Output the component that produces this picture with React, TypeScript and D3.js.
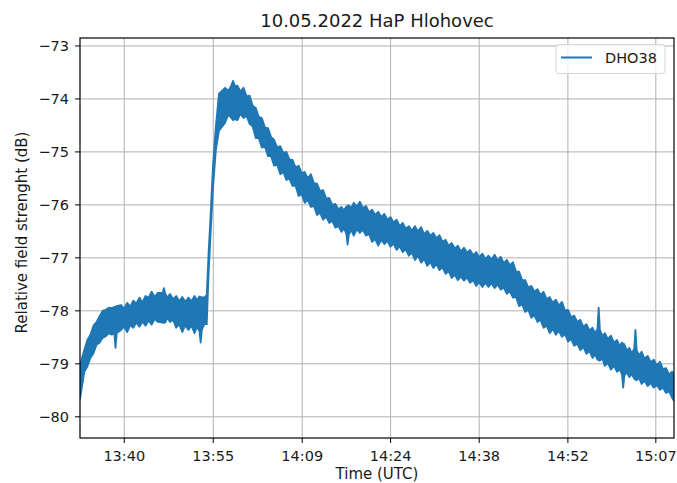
import * as d3 from "d3";

// minutes after 13:00 UTC, upper / lower edge of the noisy DHO38 trace (dB)
const sampleMinutes = [
  33.3, 33.6, 34, 34.5, 35, 35.5, 36, 36.5, 37, 37.5, 38, 38.5, 38.9, 39.1, 39.3, 40, 41, 42, 43, 44,
  45, 46, 46.8, 47, 47.2, 48, 49, 50, 51, 52, 52.8, 53, 53.2, 53.6, 54, 54.3, 54.6, 55, 55.5, 56,
  57, 58, 58.3, 58.6, 59, 60, 61, 62, 63, 64, 65, 66, 67, 68, 69, 70, 71, 72, 73, 74,
  75, 76, 76.8, 77, 77.2, 78, 79, 80, 81, 82, 83, 84, 85, 86, 87, 88, 89, 90, 91, 92,
  93, 94, 95, 96, 97, 98, 99, 100, 101, 102, 103, 104, 105, 106, 107, 108, 109, 110, 111, 112,
  113, 114, 115, 116, 117, 117.8, 118, 118.2, 119, 120, 121, 121.8, 122, 122.2, 123, 123.8, 124, 124.2, 125, 126,
  127, 128, 129, 130, 130.3,
];
const upperDb = [
  -79.02, -78.9, -78.74, -78.55, -78.45, -78.28, -78.21, -78.1, -78.0, -77.98, -77.94, -77.95, -77.93, -77.92, -77.91, -77.89, -77.85, -77.81, -77.75, -77.72,
  -77.64, -77.66, -77.66, -77.57, -77.67, -77.68, -77.72, -77.74, -77.75, -77.72, -77.73, -77.74, -77.74, -77.75, -77.7, -76.9, -76.25, -75.3, -74.5, -73.9,
  -73.79, -73.75, -73.66, -73.76, -73.75, -73.79, -73.94, -74.17, -74.36, -74.55, -74.77, -74.89, -75.0, -75.15, -75.26, -75.38, -75.42, -75.6, -75.72, -75.87,
  -75.98, -76.04, -76.03, -76.02, -76.01, -75.96, -75.94, -76.02, -76.09, -76.13, -76.17, -76.23, -76.28, -76.34, -76.4, -76.4, -76.42, -76.49, -76.53, -76.57,
  -76.66, -76.72, -76.77, -76.81, -76.85, -76.89, -76.92, -76.96, -76.94, -76.98, -77.04, -77.08, -77.26, -77.42, -77.53, -77.59, -77.64, -77.74, -77.79, -77.83,
  -77.98, -78.09, -78.17, -78.25, -78.32, -78.34, -77.94, -78.36, -78.42, -78.47, -78.55, -78.6, -78.62, -78.63, -78.7, -78.72, -78.36, -78.74, -78.77, -78.85,
  -78.92, -78.96, -79.08, -79.15, -79.2,
];
const lowerDb = [
  -79.66, -79.45, -79.15, -79.05, -78.89, -78.8, -78.64, -78.6, -78.51, -78.48, -78.42, -78.45, -78.42, -78.7, -78.42, -78.36, -78.4, -78.32, -78.3, -78.28,
  -78.26, -78.21, -78.22, -78.23, -78.22, -78.21, -78.32, -78.4, -78.36, -78.42, -78.38, -78.6, -78.36, -78.25, -78.25, -77.3, -76.6, -75.7, -74.95, -74.6,
  -74.45, -74.36, -74.4, -74.38, -74.4, -74.36, -74.47, -74.74, -74.92, -75.08, -75.26, -75.42, -75.53, -75.64, -75.83, -75.96, -76.04, -76.19, -76.28, -76.34,
  -76.43, -76.51, -76.55, -76.75, -76.56, -76.58, -76.53, -76.58, -76.7, -76.77, -76.74, -76.79, -76.85, -76.89, -76.96, -77.04, -77.09, -77.15, -77.19, -77.23,
  -77.3, -77.38, -77.42, -77.43, -77.47, -77.53, -77.55, -77.55, -77.57, -77.6, -77.68, -77.75, -77.91, -78.02, -78.13, -78.21, -78.32, -78.42, -78.45, -78.49,
  -78.58, -78.66, -78.74, -78.81, -78.89, -78.92, -78.93, -78.94, -79.04, -79.11, -79.15, -79.2, -79.45, -79.22, -79.25, -79.28, -79.3, -79.31, -79.38, -79.42,
  -79.45, -79.49, -79.55, -79.64, -79.7,
];

// in-between readings where the noisy edge dips back towards the core
const dipMinutes = [
  40.5, 41.5, 42.5, 43.5, 44.5, 45.5, 47.6, 48.5, 49.5, 50.5, 51.5, 52.4,
  57.5, 59.5, 60.5, 61.5, 62.5, 63.5, 64.5, 65.5, 66.5, 67.5, 68.5, 69.5, 70.5, 71.5, 72.5, 73.5, 74.5, 75.5, 76.4,
  77.6, 78.5, 79.5, 80.5, 81.5, 82.5, 83.5, 84.5, 85.5, 86.5, 87.5, 88.5, 89.5, 90.5, 91.5, 92.5, 93.5, 94.5, 95.5,
  96.5, 97.5, 98.5, 99.5, 100.5, 101.5, 102.5, 103.5, 104.5, 105.5, 106.5, 107.5, 108.5, 109.5, 110.5, 111.5, 112.5,
  113.5, 114.5, 115.5, 116.5, 117.4, 118.6, 119.5, 120.5, 121.4, 122.6, 123.4, 124.6, 125.5, 126.5, 127.5, 128.5, 129.5,
];
const dipUpperDb = [
  -77.96, -77.92, -77.86, -77.84, -77.75, -77.74, -77.75, -77.78, -77.82, -77.83, -77.82, -77.8,
  -73.85, -73.86, -73.95, -74.13, -74.34, -74.54, -74.72, -74.92, -75.02, -75.14, -75.29, -75.4, -75.5, -75.59, -75.74, -75.88, -76.0, -76.08, -76.1,
  -76.06, -76.03, -76.06, -76.14, -76.19, -76.23, -76.28, -76.33, -76.4, -76.45, -76.49, -76.5, -76.55, -76.58, -76.63, -76.7, -76.77, -76.82, -76.88,
  -76.9, -76.95, -76.99, -77.02, -77.03, -77.05, -77.1, -77.14, -77.26, -77.42, -77.56, -77.64, -77.7, -77.78, -77.85, -77.9, -77.99,
  -78.12, -78.21, -78.3, -78.37, -78.42, -78.47, -78.53, -78.6, -78.66, -78.75, -78.8, -78.84, -78.9, -78.97, -79.03, -79.1, -79.2,
];
const dipLowerDb = [
  -78.3, -78.27, -78.22, -78.2, -78.18, -78.15, -78.13, -78.17, -78.25, -78.27, -78.28, -78.3,
  -74.3, -74.28, -74.32, -74.52, -74.74, -74.9, -75.08, -75.24, -75.38, -75.5, -75.64, -75.8, -75.9, -76.02, -76.15, -76.22, -76.3, -76.4, -76.44,
  -76.47, -76.46, -76.47, -76.55, -76.64, -76.66, -76.68, -76.73, -76.78, -76.84, -76.9, -76.96, -77.02, -77.08, -77.12, -77.18, -77.25, -77.32, -77.35,
  -77.37, -77.42, -77.46, -77.47, -77.48, -77.5, -77.56, -77.63, -77.74, -77.88, -77.98, -78.08, -78.17, -78.28, -78.34, -78.38, -78.44,
  -78.53, -78.62, -78.68, -78.76, -78.82, -78.9, -78.98, -79.04, -79.1, -79.16, -79.2, -79.27, -79.32, -79.36, -79.4, -79.45, -79.52,
];

const yTicks = [-80, -79, -78, -77, -76, -75, -74, -73];
const xTickMinutes = [40.53, 55.06, 69.59, 84.02, 98.49, 112.97, 127.33];
const xTickLabels = ["13:40", "13:55", "14:09", "14:24", "14:38", "14:52", "15:07"];

const W = 677;
const H = 483;
const margin = { left: 80, right: 3, top: 38, bottom: 45 };
const blue = "#1f77b4";
const ink = "#1a1a1a";
const font = "DejaVu Sans, sans-serif";

type Row = { m: number; hi: number; lo: number };

export default function App() {
  const x = d3.scaleLinear().domain([33.3, 130.3]).range([margin.left, W - margin.right]);
  const y = d3.scaleLinear().domain([-80.4, -72.85]).range([H - margin.bottom, margin.top]);

  const rows: Row[] = sampleMinutes
    .map((m, i) => ({ m, hi: upperDb[i], lo: lowerDb[i] }))
    .concat(dipMinutes.map((m, i) => ({ m, hi: dipUpperDb[i], lo: dipLowerDb[i] })))
    .sort((a, b) => a.m - b.m);

  const band = d3
    .area<Row>()
    .x((d) => x(d.m))
    .y0((d) => y(d.lo))
    .y1((d) => y(d.hi));

  const [x0, x1] = x.range();
  const [y0, y1] = y.range();

  return (
    <svg width={W} height={H} style={{ position: "absolute", left: 0, top: 0 }} fontFamily={font}>
      <rect width={W} height={H} fill="white" />
      <text x={(x0 + x1) / 2} y={27} textAnchor="middle" fontSize={18} fill={ink}>
        10.05.2022 HaP Hlohovec
      </text>

      {/* grid */}
      <g stroke="#b0b0b0" strokeWidth={1}>
        {xTickMinutes.map((t) => (
          <line key={t} x1={x(t)} x2={x(t)} y1={y1} y2={y0} />
        ))}
        {yTicks.map((t) => (
          <line key={t} x1={x0} x2={x1} y1={y(t)} y2={y(t)} />
        ))}
      </g>

      <clipPath id="plot">
        <rect x={x0} y={y1} width={x1 - x0} height={y0 - y1} />
      </clipPath>
      <path
        d={band(rows) ?? ""}
        fill={blue}
        stroke={blue}
        strokeWidth={1.8}
        strokeLinejoin="round"
        clipPath="url(#plot)"
      />

      {/* axes frame */}
      <rect x={x0} y={y1} width={x1 - x0} height={y0 - y1} fill="none" stroke="#000" strokeWidth={1.2} />

      <g fontSize={14.5} fill={ink}>
        {yTicks.map((t) => (
          <g key={t}>
            <line x1={x0 - 5} x2={x0} y1={y(t)} y2={y(t)} stroke="#000" />
            <text x={x0 - 11} y={y(t)} dy="0.35em" textAnchor="end">
              {"\u2212" + Math.abs(t)}
            </text>
          </g>
        ))}
        {xTickMinutes.map((t, i) => (
          <g key={t}>
            <line x1={x(t)} x2={x(t)} y1={y0} y2={y0 + 5} stroke="#000" />
            <text x={x(t)} y={461} textAnchor="middle">
              {xTickLabels[i]}
            </text>
          </g>
        ))}
      </g>

      <text x={(x0 + x1) / 2} y={479} textAnchor="middle" fontSize={15} fill={ink}>
        Time (UTC)
      </text>
      <text transform="translate(27,232.5) rotate(-90)" textAnchor="middle" fontSize={15} fill={ink}>
        Relative field strenght (dB)
      </text>

      {/* legend */}
      <g>
        <rect x={556} y={44.5} width={109} height={29} rx={3} fill="white" fillOpacity={0.8} stroke="#d6d6d6" />
        <line x1={561} x2={592} y1={57.5} y2={57.5} stroke={blue} strokeWidth={2} />
        <text x={605} y={63} fontSize={14.5} fill={ink}>
          DHO38
        </text>
      </g>
    </svg>
  );
}
